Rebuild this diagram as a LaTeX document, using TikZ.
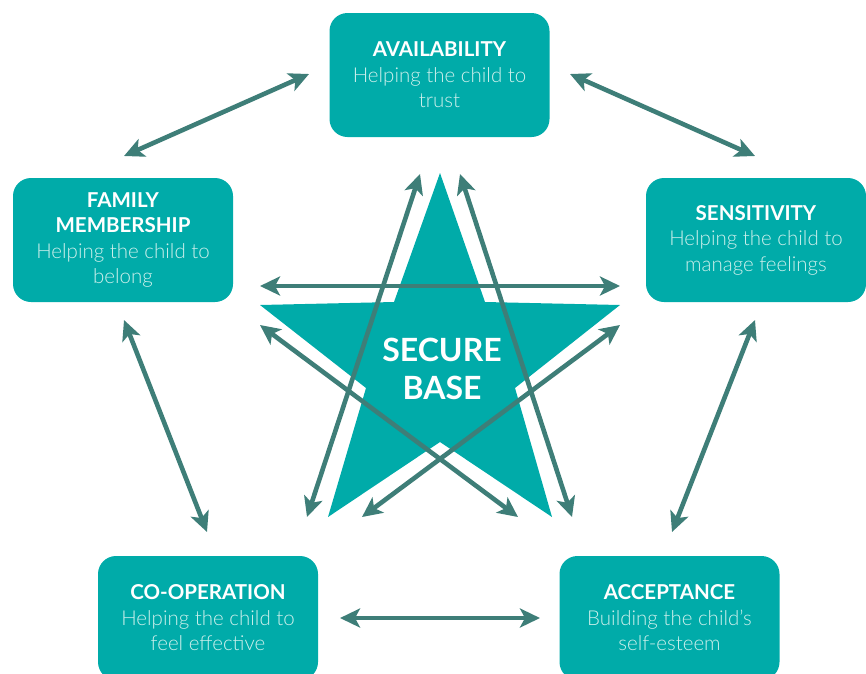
\documentclass[tikz,border=0pt]{standalone}
\usepackage{fontspec}
\setmainfont{Lato}
\IfFontExistsTF{Lato Light}{\newfontfamily\lightfont{Lato Light}}{\newfontfamily\lightfont{Lato}}
\usetikzlibrary{arrows.meta}
\definecolor{teal1}{RGB}{0,171,169}
\definecolor{linkc}{RGB}{62,126,120}
\definecolor{subtxt}{RGB}{205,240,236}
\tikzset{
  card/.style={fill=teal1, rounded corners=18pt, minimum width=220pt, minimum height=124pt,
    inner sep=0pt, align=center, text=white, font=\fontsize{20.5}{25.5}\selectfont},
  link/.style={draw=linkc, line width=4.6pt,
    {Stealth[length=20pt,width=19pt,inset=5pt]}-{Stealth[length=20pt,width=19pt,inset=5pt]}}
}
\newcommand{\cardtext}[3]{\textbf{#1}\\{\lightfont\color{subtxt}#2}\\{\lightfont\color{subtxt}#3}}
\begin{document}
\begin{tikzpicture}[x=1pt,y=-1pt]
\useasboundingbox (0,0) rectangle (866,673);
\clip (0,0) rectangle (866,673);

% the five cards
\node[card] (avail) at (439.5,75) {\cardtext{AVAILABILITY}{Helping the child to}{trust}};
\node[card] (family) at (123,240) {\textbf{FAMILY}\\\textbf{MEMBERSHIP}\\{\lightfont\color{subtxt}Helping the child to}\\{\lightfont\color{subtxt}belong}};
\node[card] (sens) at (756,240) {\cardtext{SENSITIVITY}{Helping the child to}{manage feelings}};
\node[card] (coop) at (208,618) {\cardtext{CO-OPERATION}{Helping the child to}{feel effective}};
\node[card] (accept) at (669.5,618) {\cardtext{ACCEPTANCE}{Building the child’s}{self-esteem}};

% the star
\fill[teal1] (440,173) -- (485,302) -- (620,305) -- (515,388) -- (552,517)
  -- (440,442) -- (328,517) -- (366,388) -- (260,305) -- (394,302) -- cycle;
\node[text=white, font=\fontsize{32}{38}\selectfont\bfseries, align=center] (base) at (442,369) {SECURE\\BASE};

% arrow ends round the star
\coordinate (hl) at (260,286);   \coordinate (hr) at (620,286);
\coordinate (ll) at (307,517);   \coordinate (lt) at (420,174);
\coordinate (rt) at (460,174);   \coordinate (rl) at (572,517);
\coordinate (dl) at (260,325);   \coordinate (dr) at (518,517);
\coordinate (el) at (620,325);   \coordinate (er) at (362,517);

% arrow ends between the cards
\coordinate (fa1) at (124,156);  \coordinate (fa2) at (309,74);
\coordinate (as1) at (570,74);   \coordinate (as2) at (755,156);
\coordinate (sa1) at (755,320);  \coordinate (sa2) at (672,532);
\coordinate (ac1) at (540,618);  \coordinate (ac2) at (340,618);
\coordinate (cf1) at (207,532);  \coordinate (cf2) at (124,320);

\draw[link] (hl) -- (hr);
\draw[link] (ll) -- (lt);
\draw[link] (rt) -- (rl);
\draw[link] (dl) -- (dr);
\draw[link] (el) -- (er);

\draw[link] (fa1) -- (fa2);
\draw[link] (as1) -- (as2);
\draw[link] (sa1) -- (sa2);
\draw[link] (ac1) -- (ac2);
\draw[link] (cf1) -- (cf2);
\end{tikzpicture}
\end{document}
